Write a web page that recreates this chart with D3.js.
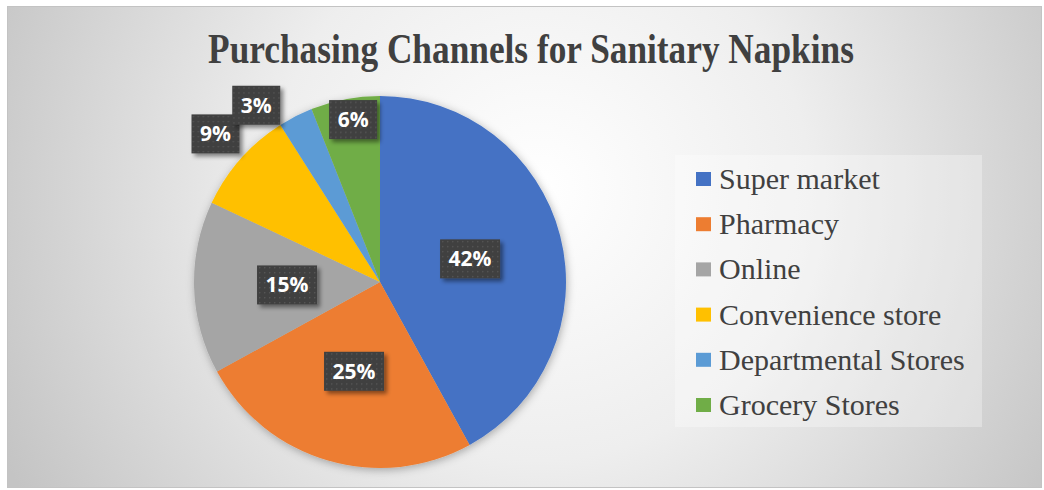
<!DOCTYPE html>
<html>
<head>
<meta charset="utf-8">
<script src="https://cdn.jsdelivr.net/npm/d3@7"></script>
<style>
  html, body { margin: 0; padding: 0; background: #ffffff; }
  svg { display: block; }
</style>
</head>
<body>
<svg id="chart" width="1044" height="490"></svg>
<script>
// Purchasing channels, share of respondents (%)
const categories = ["Super market", "Pharmacy", "Online", "Convenience store", "Departmental Stores", "Grocery Stores"];
const shares = [42, 25, 15, 9, 3, 6];
const colors = ["#4472C4", "#ED7D31", "#A5A5A5", "#FFC000", "#5B9BD5", "#70AD47"];
const titleText = "Purchasing Channels for Sanitary Napkins";

// Label placement: radius as a fraction of the pie radius, plus an angular nudge (degrees)
const labelRadiusFactor = [0.5, 0.5, 0.5, 1.19, 1.16, 0.885];
const labelAngleNudge = [0, 0, 0, 0.6, -8, 1.4];

const W = 1044, H = 490;
const svg = d3.select("#chart");
const defs = svg.append("defs");

// Chart-area background: soft radial gradient
const bg = defs.append("radialGradient")
  .attr("id", "bgGrad")
  .attr("gradientUnits", "userSpaceOnUse")
  .attr("cx", 540).attr("cy", 190).attr("r", 600);
bg.append("stop").attr("offset", "0").attr("stop-color", "#ffffff");
bg.append("stop").attr("offset", "0.45").attr("stop-color", "#eeeeee");
bg.append("stop").attr("offset", "1").attr("stop-color", "#c4c4c4");

// Dotted texture for the value labels
const pat = defs.append("pattern")
  .attr("id", "dots")
  .attr("patternUnits", "userSpaceOnUse")
  .attr("width", 5).attr("height", 5);
pat.append("rect").attr("width", 5).attr("height", 5).attr("fill", "#3f3f3f");
pat.append("rect").attr("x", 2).attr("y", 2).attr("width", 1.4).attr("height", 1.4).attr("fill", "#575757");

// Shadows
const pieShadow = defs.append("filter").attr("id", "pieShadow")
  .attr("x", "-20%").attr("y", "-20%").attr("width", "140%").attr("height", "140%");
pieShadow.append("feDropShadow").attr("dx", 1).attr("dy", 2).attr("stdDeviation", 4)
  .attr("flood-color", "#000").attr("flood-opacity", 0.3);

const boxShadow = defs.append("filter").attr("id", "boxShadow")
  .attr("x", "-30%").attr("y", "-30%").attr("width", "160%").attr("height", "160%");
boxShadow.append("feDropShadow").attr("dx", 3).attr("dy", 3).attr("stdDeviation", 2.2)
  .attr("flood-color", "#000").attr("flood-opacity", 0.45);

// Chart area
svg.append("rect")
  .attr("x", 7.5).attr("y", 6.5).attr("width", 1034).attr("height", 481)
  .attr("fill", "url(#bgGrad)")
  .attr("stroke", "#c3c3c3").attr("stroke-width", 1);

// Title
svg.append("text")
  .attr("transform", "translate(531,63) scale(1,1.18)")
  .attr("text-anchor", "middle")
  .attr("font-family", "'Liberation Serif', 'Times New Roman', serif")
  .attr("font-weight", "bold")
  .attr("font-size", 35.3)
  .attr("fill", "#404040")
  .text(titleText);

// Pie
const cx = 380, cy = 282, R = 186;
const pie = d3.pie().sort(null).value(d => d)(shares);
const arc = d3.arc().innerRadius(0).outerRadius(R);

const g = svg.append("g").attr("transform", `translate(${cx},${cy})`);
g.append("g").attr("filter", "url(#pieShadow)")
  .selectAll("path")
  .data(pie)
  .join("path")
  .attr("d", arc)
  .attr("fill", (d, i) => colors[i]);

// Value labels
const labels = g.append("g")
  .selectAll("g")
  .data(pie)
  .join("g")
  .attr("transform", (d, i) => {
    const a = (d.startAngle + d.endAngle) / 2 + labelAngleNudge[i] * Math.PI / 180;
    const r = R * labelRadiusFactor[i];
    return `translate(${Math.sin(a) * r},${-Math.cos(a) * r})`;
  });

labels.each(function(d, i) {
  const sel = d3.select(this);
  const t = sel.append("text")
    .attr("text-anchor", "middle")
    .attr("dy", "0.36em")
    .attr("font-family", "'Open Sans', 'DejaVu Sans', sans-serif")
    .attr("font-weight", "bold")
    .attr("font-size", 21)
    .attr("fill", "#ffffff")
    .text(d3.format(".0%")(shares[i] / 100));
  const tw = t.node().getComputedTextLength();
  const bw = Math.round(tw + 17), bh = 39;
  sel.insert("rect", "text")
    .attr("x", -bw / 2).attr("y", -bh / 2)
    .attr("width", bw).attr("height", bh)
    .attr("fill", "url(#dots)")
    .attr("filter", "url(#boxShadow)");
});

// Legend
const legend = svg.append("g");
legend.append("rect")
  .attr("x", 675).attr("y", 155).attr("width", 307).attr("height", 272)
  .attr("fill", "#ffffff").attr("fill-opacity", 0.3);

const rowY = d3.scalePoint().domain(categories).range([179, 405]);
const items = legend.selectAll("g.item")
  .data(categories)
  .join("g")
  .attr("class", "item")
  .attr("transform", d => `translate(0,${rowY(d)})`);
items.append("rect")
  .attr("x", 696).attr("y", -7).attr("width", 15).attr("height", 14)
  .attr("fill", (d, i) => colors[i]);
items.append("text")
  .attr("x", 719).attr("y", 10)
  .attr("font-family", "'Liberation Serif', 'Times New Roman', serif")
  .attr("font-size", 30)
  .attr("fill", "#404040")
  .text(d => d);
</script>
</body>
</html>
